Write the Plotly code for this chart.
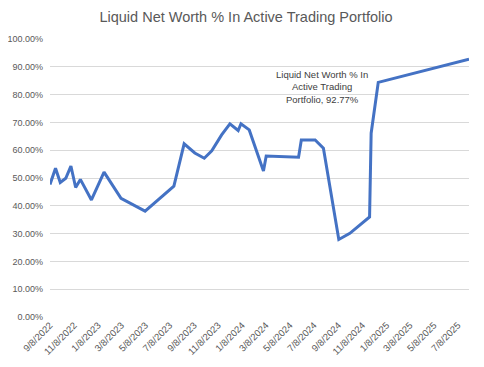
import plotly.graph_objects as go

dates = [
    "2022-09-08", "2022-09-22", "2022-10-04", "2022-10-18", "2022-10-31",
    "2022-11-12", "2022-11-24", "2022-12-22", "2023-01-23", "2023-03-07",
    "2023-05-07", "2023-07-19", "2023-08-14", "2023-09-10", "2023-10-04",
    "2023-10-23", "2023-11-17", "2023-12-08", "2023-12-29", "2024-01-05",
    "2024-01-26", "2024-03-02", "2024-03-09", "2024-05-30", "2024-06-06",
    "2024-07-11", "2024-08-01", "2024-09-09", "2024-10-07", "2024-11-26",
    "2024-11-30", "2024-12-18", "2025-08-05",
]
pct = [
    0.477, 0.535, 0.484, 0.499, 0.543,
    0.466, 0.495, 0.421, 0.521, 0.427,
    0.381, 0.471, 0.623, 0.590, 0.571,
    0.598, 0.655, 0.695, 0.671, 0.695,
    0.673, 0.525, 0.579, 0.575, 0.637,
    0.637, 0.607, 0.279, 0.301, 0.360,
    0.661, 0.844, 0.9277,
]
title_text = "Liquid Net Worth % In Active Trading Portfolio"
series_name = "Liquid Net Worth % In Active Trading Portfolio"

FONT = "Liberation Sans"
GREY = "#595959"
W, H = 476, 359

fig = go.Figure()
fig.add_trace(go.Scatter(
    x=dates, y=pct, mode="lines", name=series_name,
    line=dict(color="#4472C4", width=3),
    showlegend=False,
))

fig.add_annotation(
    x=dates[-1], y=pct[-1],
    text="Liquid Net Worth % In<br>Active Trading<br>Portfolio, 92.77%",
    showarrow=False, xanchor="center", yanchor="middle",
    xshift=-147, yshift=-28,
    font=dict(family=FONT, size=9.5, color="#404040"),
    align="center",
)

fig.update_layout(
    width=W, height=H,
    margin=dict(l=42, r=15, t=31, b=50),
    paper_bgcolor="white", plot_bgcolor="white",
    title=dict(text=title_text, x=0.5, xanchor="center", y=1 - 8.5 / H, yanchor="middle",
               font=dict(family=FONT, size=14.5, color=GREY)),
    font=dict(family=FONT, size=9, color=GREY),
)
fig.update_xaxes(
    type="date", range=["2022-09-08", dates[-1]],
    tick0="2022-09-08", dtick="M2", tickformat="%-m/%-d/%Y",
    tickangle=-45, showgrid=False, zeroline=False, showline=False,
    ticks="", tickfont=dict(family=FONT, size=9.5, color=GREY),
    automargin=False,
)
fig.update_yaxes(
    range=[0, 1.0], dtick=0.1, tickformat=".2%",
    showgrid=True, gridcolor="#D9D9D9", gridwidth=1, zeroline=False,
    tickfont=dict(family=FONT, size=9, color=GREY), ticks="",
    automargin=False, ticklabelstandoff=6,
)

fig.write_html("out.html")
